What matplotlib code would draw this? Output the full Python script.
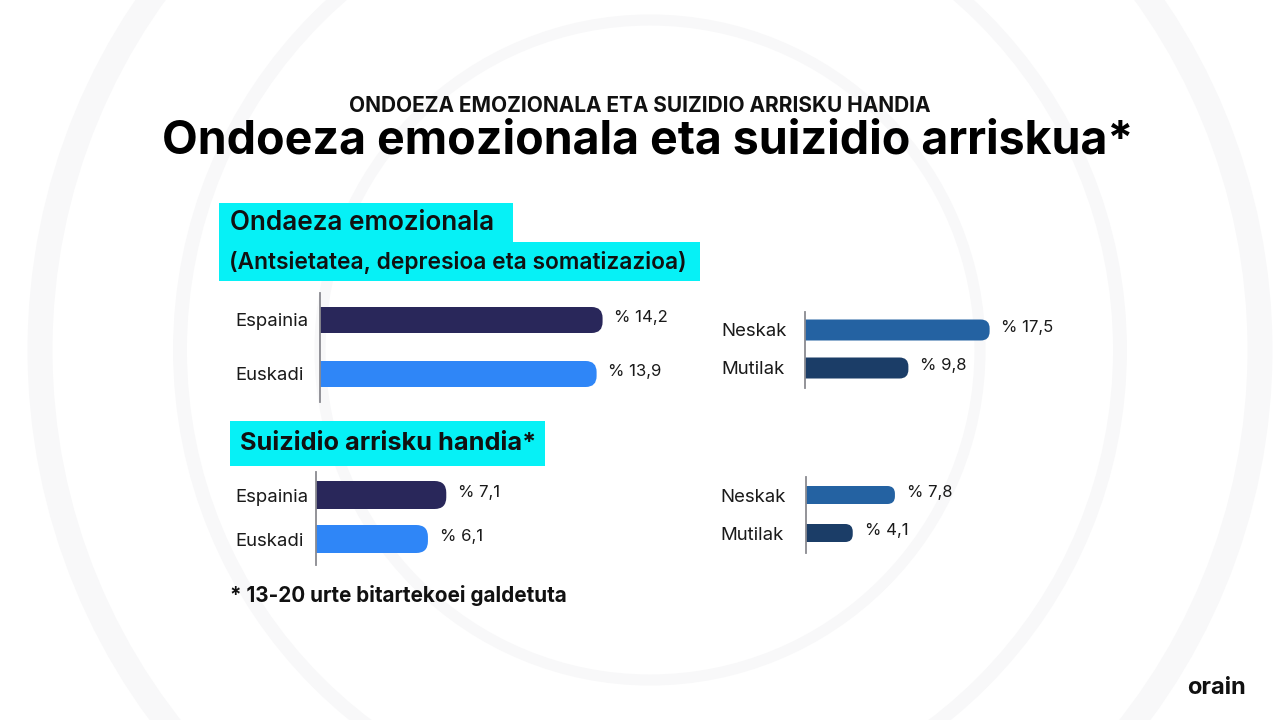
import matplotlib.pyplot as plt
from matplotlib.patches import FancyBboxPatch, Rectangle, Circle

plt.rcParams['font.family'] = ['Inter', 'DejaVu Sans']

# Data
cat_region = ["Espainia", "Euskadi"]
cat_sex = ["Neskak", "Mutilak"]
ondoeza_region = [14.2, 13.9]
ondoeza_sex = [17.5, 9.8]
suizidio_region = [7.1, 6.1]
suizidio_sex = [7.8, 4.1]

col_region = ["#29275a", "#2f86f7"]
col_sex = ["#2462a2", "#1b3d67"]

W, H = 1280, 720
fig = plt.figure(figsize=(12.8, 7.2), dpi=100)
fig.patch.set_facecolor("white")

# background layer in pixel coordinates
bg = fig.add_axes([0, 0, 1, 1], zorder=-5)
bg.set_xlim(0, W)
bg.set_ylim(H, 0)
bg.axis("off")
for r, lw in [(610, 18), (470, 10), (330, 8)]:
    bg.add_patch(Circle((650, 350), r, fill=False, ec="#f8f8f9", lw=lw))

# cyan heading boxes
cyan = "#06f1f6"
bg.add_patch(Rectangle((219, 203), 294, 40, color=cyan, lw=0))
bg.add_patch(Rectangle((219, 242), 481, 39, color=cyan, lw=0))
bg.add_patch(Rectangle((230, 421), 315, 45, color=cyan, lw=0))

bg.text(640, 106, "ONDOEZA EMOZIONALA ETA SUIZIDIO ARRISKU HANDIA",
        ha="center", va="center", fontsize=15, fontweight="bold", color="#111111")
bg.text(648, 142, "Ondoeza emozionala eta suizidio arriskua*",
        ha="center", va="center", fontsize=33.5, fontweight="bold", color="#000000")
bg.text(230, 223, "Ondaeza emozionala", ha="left", va="center",
        fontsize=18.8, fontweight="semibold", color="#111111")
bg.text(229, 262, "(Antsietatea, depresioa eta somatizazioa)", ha="left", va="center",
        fontsize=16.4, fontweight="semibold", color="#111111")
bg.text(240, 444, "Suizidio arrisku handia*", ha="left", va="center",
        fontsize=18.2, fontweight="bold", color="#111111")
bg.text(230, 596, "* 13-20 urte bitartekoei galdetuta", ha="left", va="center",
        fontsize=14.9, fontweight="bold", color="#111111")
bg.text(1246, 688, "orain", ha="right", va="center",
        fontsize=17, fontweight="bold", color="#111111")


def panel(cats, vals, colors, left, top, bottom, c0, c1, bar_h, scale, label_x):
    aw = 420
    ax = fig.add_axes([left / W, 1 - bottom / H, aw / W, (bottom - top) / H])
    ax.patch.set_alpha(0)
    step = c1 - c0
    ax.set_xlim(0, aw / scale)
    ax.set_ylim((bottom - c0) / step, (top - c0) / step)
    hb = bar_h / step
    bars = ax.barh(range(len(vals)), vals, height=hb, color=colors)
    # rounded right end: replace each rectangle by a rounded box
    r_px = bar_h * 0.42
    for b, c in zip(bars, colors):
        x0, y0 = b.get_x(), b.get_y()
        w, h = b.get_width(), b.get_height()
        b.set_visible(False)
        rx = r_px / scale
        p = FancyBboxPatch((x0 - rx, y0), w + rx, h,
                           boxstyle=f"round,pad=0,rounding_size={rx}",
                           mutation_aspect=scale / step, fc=c, ec="none")
        ax.add_patch(p)
        ax.annotate(f"% {w:.1f}".replace(".", ","), xy=(w, b.get_y() + h / 2),
                    xytext=(8.5, 1.5), textcoords="offset points",
                    ha="left", va="center", fontsize=12, color="#1a1a1a")
    for s in ["top", "right", "bottom"]:
        ax.spines[s].set_visible(False)
    ax.spines["left"].set_color("#8a8a90")
    ax.spines["left"].set_linewidth(1.3)
    ax.set_xticks([])
    ax.set_yticks(range(len(cats)))
    ax.set_yticklabels(cats, ha="left", fontsize=13.4, color="#1a1a1a")
    ax.tick_params(axis="y", length=0, pad=(left - label_x) * 0.72)
    return ax


panel(cat_region, ondoeza_region, col_region, 320, 293, 402, 320, 374, 26, 19.9, 235)
panel(cat_sex, ondoeza_sex, col_sex, 805, 312, 388, 330, 368, 21, 10.55, 721)
panel(cat_region, suizidio_region, col_region, 316, 472, 565, 495, 539, 28, 18.35, 235)
panel(cat_sex, suizidio_sex, col_sex, 806, 477, 553, 495, 533, 18, 11.4, 720)

fig.savefig("out.png", dpi=100)
